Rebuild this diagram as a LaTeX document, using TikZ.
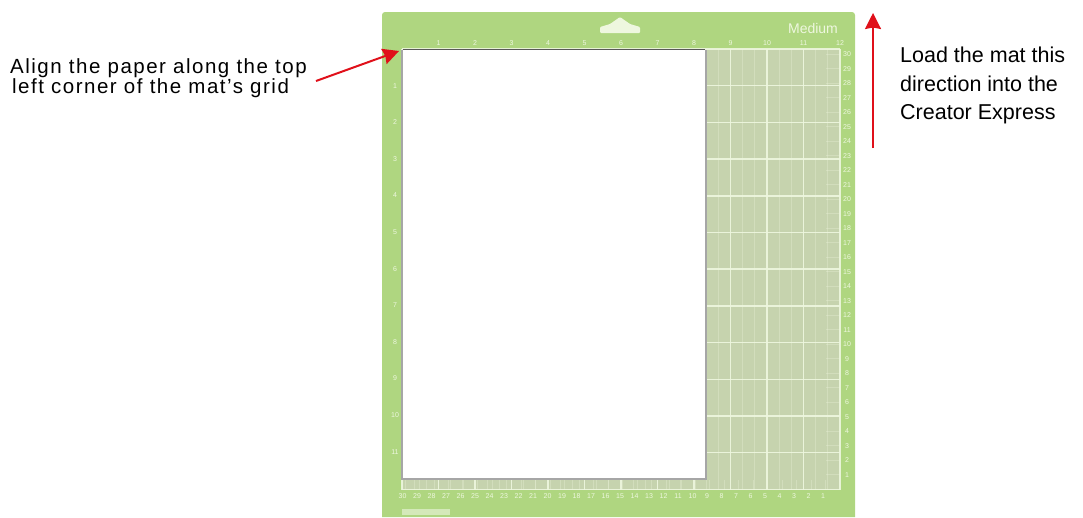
\documentclass[tikz,border=0pt]{standalone}
\usepackage{fontspec}
\setmainfont{Liberation Sans}
\usetikzlibrary{arrows.meta, positioning}

\definecolor{matgreen}{HTML}{AFD680}
\definecolor{gridgreen}{HTML}{C6D3AE}
\definecolor{rulewhite}{HTML}{EEF7DF}
\definecolor{arrowred}{HTML}{E0101A}

\tikzset{
  notelabel/.style={align=left, inner sep=0pt, anchor=north west, font=\fontsize{20.5}{20}\selectfont\addfontfeatures{LetterSpace=7.3}},
  loadlabel/.style={align=left, inner sep=0pt, anchor=north west, font=\fontsize{21.5}{28.5}\selectfont},
  rulernum/.style={text=rulewhite, inner sep=0pt, font=\fontsize{7}{7}\selectfont},
  gridline/.style={draw=rulewhite, line width=1.5pt, opacity=0.9},
  fineline/.style={draw=rulewhite, line width=0.6pt, opacity=0.3},
  redarrow/.style={draw=arrowred, line width=2pt, -{Stealth[inset=1.5pt, length=16pt, width=16pt]}},
}

\begin{document}
\begin{tikzpicture}[x=1pt, y=-1pt]
  \useasboundingbox (0,0) rectangle (1083,517);
  % mat
  \fill[matgreen] (382,517) [rounded corners=3pt] -- (382,12) -- (855,12) [sharp corners] -- (855,517) -- cycle;
  \fill[gridgreen] (402,49) rectangle (840,490);
  % fine lines and grid
  \foreach \k in {0,...,11} {
    \draw[fineline] ({402+36.5*\k+12},49) -- ++(0,441);
    \draw[fineline] ({402+36.5*\k+24},49) -- ++(0,441);
  }
  \foreach \k in {0,...,12}
    \draw[gridline] ({402+36.5*\k},49) -- ++(0,441);
  \foreach \k in {0,...,12}
    \draw[gridline] (402,{49+36.7*\k}) -- ++(438,0);
  % small ticks, right and bottom edge
  \foreach \k in {0,...,29} {
    \draw[fineline] (826,{54+14.5*\k}) -- (840,{54+14.5*\k});
    \draw[fineline] ({405+14.5*\k},480) -- ++(0,10);
  }
  % rulers
  \foreach \n in {1,...,12}
    \node[rulernum] (top\n) at ({402+36.5*\n},43) {\n};
  \foreach \n in {1,...,11}
    \node[rulernum] (left\n) at (395,{49+36.6*\n}) {\n};
  \foreach \n in {1,...,30} {
    \node[rulernum] (right\n) at (847,{475-14.5*(\n-1)}) {\n};
    \node[rulernum] (bottom\n) at ({823-14.5*(\n-1)},496) {\n};
  }
  \node[text=rulewhite, inner sep=0pt, font=\fontsize{14}{14}\selectfont] (sizelabel) at (813,28) {Medium};
  \fill[rulewhite, rounded corners=1pt] (600,33) -- (640,33) -- (640,27) -- (630,24) -- (620,17) -- (610,24) -- (600,27) -- cycle;
  \fill[rulewhite, opacity=0.6] (402,509) rectangle (450,515);
  % paper
  \fill[black!35] (401,50) rectangle (706.5,480);
  \node[fill=white, inner sep=0pt, outer sep=0pt,
        minimum width=302.5pt, minimum height=428pt, anchor=north west] (paper) at (402.5,49.5) {};
  \draw[black!65, line width=1pt] (paper.north west) -- (paper.north east);
  % notes
  \node[notelabel] (aligntext) at (10,58) {Align the paper along the top};
  \node[notelabel] (aligntexttwo) at (12,78) {left corner of the mat’s grid};
  \node[loadlabel] (loadtext) at (900,47) {Load the mat this\\direction into the\\Creator Express};
  \coordinate (alignstart) at (316,81);
  \coordinate (alignend) at (399,51);
  \coordinate (loadstart) at (873,148);
  \coordinate (loadend) at (873,13);
  \draw[redarrow] (alignstart) -- (alignend);
  \draw[redarrow] (loadstart) -- (loadend);
\end{tikzpicture}
\end{document}
